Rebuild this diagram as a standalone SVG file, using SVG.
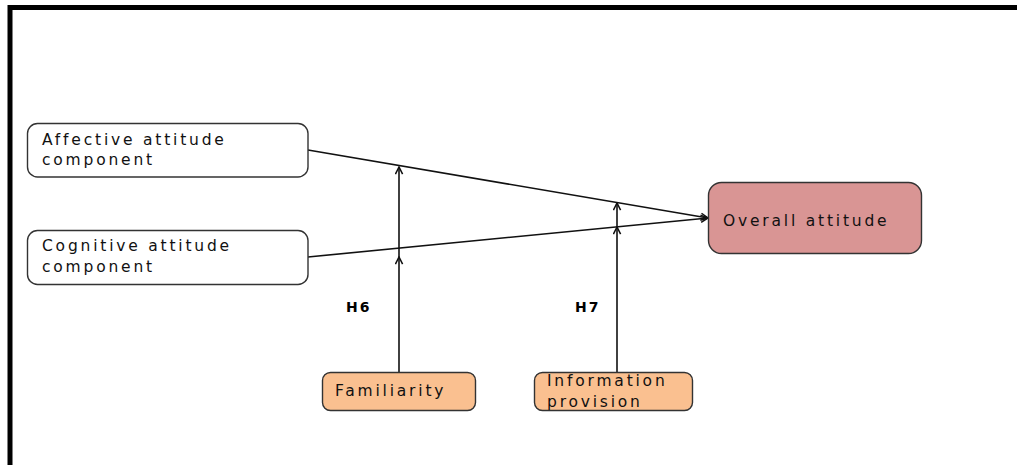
<svg xmlns="http://www.w3.org/2000/svg" width="1017" height="465" viewBox="0 0 1017 465">
  <style>
    .box { stroke: #333333; stroke-width: 1.4; }
    .plain { fill: #ffffff; }
    .outcome { fill: #d99594; }
    .moderator { fill: #fac090; }
    .label { font-family: "DejaVu Sans", Verdana, sans-serif; font-size: 15.5px; letter-spacing: 2.8px; fill: #111111; }
    .hyp { font-family: "DejaVu Sans", Verdana, sans-serif; font-size: 14px; font-weight: bold; letter-spacing: 2px; fill: #000000; }
    .link { stroke: #111111; stroke-width: 1.6; fill: none; }
  </style>
  <defs>
    <marker id="head" viewBox="0 0 10 10" refX="9" refY="5" markerWidth="9" markerHeight="9" markerUnits="userSpaceOnUse" orient="auto">
      <path d="M1,1 L9,5 L1,9" fill="none" stroke="#111111" stroke-width="1.7"/>
    </marker>
  </defs>

  <rect x="0" y="0" width="1017" height="465" fill="#ffffff"/>
  <!-- frame: only top and left edges fall inside the canvas -->
  <rect x="10" y="7.5" width="1100" height="520" fill="none" stroke="#000000" stroke-width="5"/>

  <g id="connectors">
    <path class="link" d="M308,150 L708,218" marker-end="url(#head)"/>
    <path class="link" d="M308,257 L708,218" marker-end="url(#head)"/>
    <path class="link" d="M399,372 L399,257" marker-end="url(#head)"/>
    <path class="link" d="M399,257 L399,167" marker-end="url(#head)"/>
    <path class="link" d="M617,372 L617,227" marker-end="url(#head)"/>
    <path class="link" d="M617,227 L617,203" marker-end="url(#head)"/>
  </g>

  <g id="affective">
    <rect class="box plain" x="27.5" y="123.5" width="280.5" height="53.5" rx="10"/>
    <text class="label" x="42" y="145">Affective attitude</text>
    <text class="label" x="42" y="165">component</text>
  </g>

  <g id="cognitive">
    <rect class="box plain" x="27.5" y="230.5" width="280.5" height="54" rx="10"/>
    <text class="label" x="42" y="251">Cognitive attitude</text>
    <text class="label" x="42" y="272">component</text>
  </g>

  <g id="overall">
    <rect class="box outcome" x="708.5" y="182.5" width="213" height="71" rx="13"/>
    <text class="label" x="723" y="226">Overall attitude</text>
  </g>

  <g id="familiarity">
    <rect class="box moderator" x="322.5" y="372.5" width="153" height="38" rx="8"/>
    <text class="label" x="335" y="396">Familiarity</text>
  </g>

  <g id="information">
    <rect class="box moderator" x="534.5" y="372.5" width="158" height="38" rx="8"/>
    <text class="label" x="547" y="386">Information</text>
    <text class="label" x="547" y="407">provision</text>
  </g>

  <g id="hypotheses">
    <text class="hyp" x="346" y="312">H6</text>
    <text class="hyp" x="575" y="312">H7</text>
  </g>
</svg>
